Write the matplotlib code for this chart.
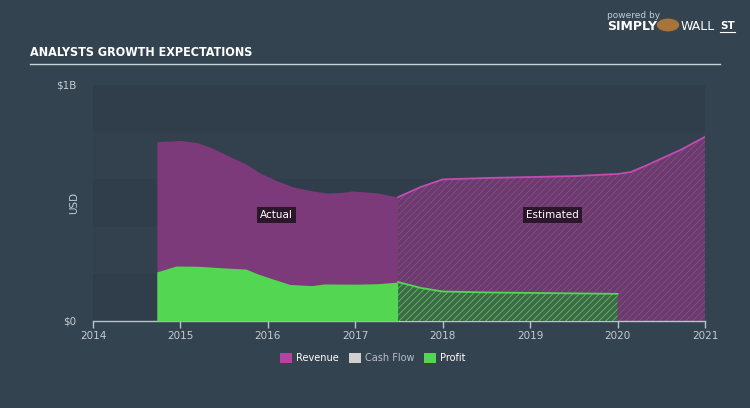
import matplotlib
matplotlib.use("Agg")
import matplotlib.pyplot as plt
from matplotlib.patches import Rectangle

# ---- data (USD billions) ----
rev_act_x = [2014.73, 2015.0, 2015.2, 2015.35, 2015.53, 2015.75, 2015.91, 2016.1,
             2016.29, 2016.5, 2016.68, 2016.85, 2016.97, 2017.25, 2017.49]
rev_act_y = [0.760, 0.765, 0.755, 0.735, 0.703, 0.665, 0.627, 0.595,
             0.568, 0.552, 0.542, 0.545, 0.551, 0.543, 0.525]
prof_act_x = [2014.73, 2014.95, 2015.2, 2015.5, 2015.75, 2015.88, 2016.0, 2016.25,
              2016.5, 2016.65, 2017.0, 2017.25, 2017.49]
prof_act_y = [0.208, 0.233, 0.232, 0.225, 0.220, 0.200, 0.185, 0.155,
              0.150, 0.157, 0.156, 0.158, 0.165]
rev_est_x = [2017.49, 2017.75, 2018.0, 2018.5, 2019.0, 2019.5, 2020.0, 2020.15,
             2020.34, 2020.72, 2021.0]
rev_est_y = [0.525, 0.568, 0.600, 0.606, 0.610, 0.614, 0.623, 0.631,
             0.661, 0.725, 0.780]
prof_est_x = [2017.49, 2017.75, 2018.0, 2018.5, 2019.0, 2019.5, 2020.0]
prof_est_y = [0.165, 0.140, 0.125, 0.121, 0.119, 0.117, 0.115]
year_ticks = [2014, 2015, 2016, 2017, 2018, 2019, 2020, 2021]
legend_labels = ["Revenue", "Cash Flow", "Profit"]

BG = "#344350"
REV = "#7c3a7a"
REV_EST = "#6a3b6d"
REV_HATCH = "#8c4c8b"
REV_LINE = "#c24cb2"
PROF = "#53d651"
PROF_EST = "#3d6a48"
PROF_HATCH = "#5fbf5c"
TXT = "#c5ccd3"

plt.rcParams["hatch.linewidth"] = 0.6

fig = plt.figure(figsize=(7.5, 4.08), dpi=100, facecolor=BG)
ax = fig.add_axes([93/750, 1-321/408, 612/750, 236/408])
ax.set_facecolor("#33414f")
ax.set_xlim(2014, 2021)
ax.set_ylim(0, 1)

# subtle background bands
for b0 in [0.0, 0.4, 0.8]:
    ax.axhspan(b0, b0 + 0.2, color="#303e4b", lw=0, zorder=0)

# actual
ax.fill_between(rev_act_x, 0, rev_act_y, color=REV, lw=0, zorder=2)
ax.fill_between(prof_act_x, 0, prof_act_y, color=PROF, lw=0, zorder=3)
# estimated
ax.fill_between(rev_est_x, 0, rev_est_y, facecolor=REV_EST, edgecolor=REV_HATCH,
                hatch="/////", lw=0, zorder=2)
ax.plot(rev_est_x, rev_est_y, color=REV_LINE, lw=1.3, zorder=4)
ax.fill_between(prof_est_x, 0, prof_est_y, facecolor=PROF_EST, edgecolor=PROF_HATCH,
                hatch="/////", lw=0, zorder=3)
ax.plot(prof_est_x, prof_est_y, color=PROF, lw=1.3, zorder=4)

ax.text(2016.1, 0.45, "Actual", color="white", fontsize=7.5, ha="center", va="center",
        zorder=5, bbox=dict(boxstyle="square,pad=0.3", fc="#2b1729", ec="none"))
ax.text(2019.25, 0.45, "Estimated", color="white", fontsize=7.5, ha="center", va="center",
        zorder=5, bbox=dict(boxstyle="square,pad=0.3", fc="#2b1729", ec="none"))

for s in ["top", "right", "left"]:
    ax.spines[s].set_visible(False)
ax.spines["bottom"].set_color("#b8c3cc")
ax.spines["bottom"].set_linewidth(1.0)
ax.set_xticks(year_ticks)
ax.set_xticklabels([str(y) for y in year_ticks])
ax.tick_params(axis="x", colors="#b8c3cc", labelcolor=TXT, labelsize=7.5, length=5, width=1, pad=2)
ax.set_yticks([0, 1])
ax.set_yticklabels(["$0", "$1B"])
ax.tick_params(axis="y", length=0, labelcolor=TXT, labelsize=7.5, pad=12)
ax.set_ylabel("USD", color=TXT, fontsize=7.5, labelpad=2)
ax.yaxis.set_label_coords(-0.022, 0.5)

# title
fig.text(30/750, 1-53/408, "ANALYSTS GROWTH EXPECTATIONS", color="white", fontsize=9,
         fontweight="bold", fontstretch="condensed", va="center", ha="left")
fig.add_artist(plt.Line2D([30/750, 720/750], [1-64/408, 1-64/408], color="#c9d3da", lw=1))

# logo text
fig.text(607/750, 1-15/408, "powered by", color="#c5ccd3", fontsize=6.5, va="center")
fig.text(607/750, 1-27/408, "SIMPLY", color="white", fontsize=9, fontweight="bold", va="center")
fig.text(681/750, 1-27/408, "WALL", color="white", fontsize=9, va="center")
fig.text(720/750, 1-26/408, "ST", color="white", fontsize=7.5, fontweight="bold", va="center")
fig.add_artist(plt.Line2D([720/750, 735/750], [1-32/408, 1-32/408], color="white", lw=0.8))
fig.add_artist(plt.Circle((668/750, 1-25/408), 0.014, transform=fig.transFigure,
                          color="#a8743a"))

# legend
leg_cols = ["#b5439f", "#d0d0d0", PROF]
leg_x = [280, 349, 424]
leg_txt_col = ["white", "#b8c0c8", "white"]
for lab, c, x, tc in zip(legend_labels, leg_cols, leg_x, leg_txt_col):
    fig.add_artist(Rectangle((x/750, 1-363/408), 12/750, 10/408, transform=fig.transFigure,
                             color=c, lw=0))
    fig.text((x+16)/750, 1-358/408, lab, color=tc, fontsize=7, va="center", ha="left")

fig.savefig("out.png", dpi=100, facecolor=BG)
